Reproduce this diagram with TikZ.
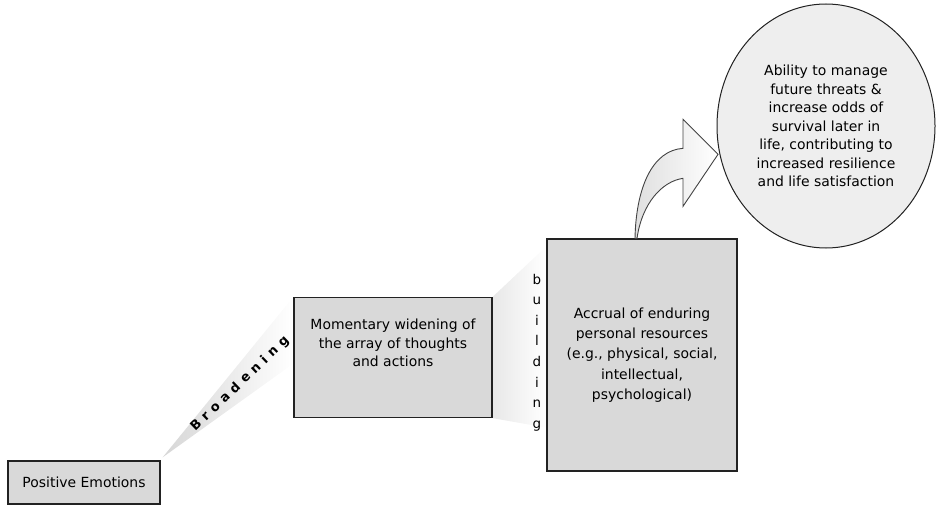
\documentclass[tikz,border=0pt]{standalone}
\usepackage{fontspec}
\setmainfont{DejaVu Sans}
\newfontfamily\spacedfont[LetterSpace=40]{DejaVu Sans}
\usetikzlibrary{shapes.geometric,calc,backgrounds}

\definecolor{boxgray}{HTML}{D9D9D9}
\definecolor{ballgray}{HTML}{EEEEEE}
\definecolor{edge}{HTML}{222222}

\begin{document}
\begin{tikzpicture}[x=1bp,y=-1bp,
  stagebox/.style={draw=edge, line width=1.3bp, fill=boxgray, inner sep=0pt, align=center},
  body/.style={font=\fontsize{14}{18.5}\selectfont, text=black},
  wedge/.style={right color=white},
]
\useasboundingbox (0,0) rectangle (936,506);

% the three stages
\node[stagebox, body, minimum width=152bp, minimum height=43bp] (pos) at (84,482.5) {Positive Emotions};
\node[stagebox, minimum width=198bp, minimum height=120bp] (mom) at (393,357.5) {};
\node[body, align=center, inner sep=0pt] (momtext) at (393,343)
  {Momentary widening of\\the array of thoughts\\and actions};
\node[stagebox, body, font=\fontsize{14}{20.5}\selectfont, minimum width=190bp, minimum height=232bp] (acc) at (642,355)
  {Accrual of enduring\\personal resources\\(e.g., physical, social,\\intellectual,\\psychological)};

% outcome
\node[ellipse, draw=edge, line width=1bp, fill=ballgray, minimum width=218bp, minimum height=244bp,
      inner sep=0pt, align=center, body] (goal) at (826,126)
  {Ability to manage\\future threats \&\\increase odds of\\survival later in\\life, contributing to\\increased resilience\\and life satisfaction};

% soft wedges joining the stages
\begin{scope}[on background layer]
  \shade[wedge, left color=gray!32] ($(pos.north east)+(2,-3)$) -- (mom.north west)
        -- ($(mom.north west)!0.55!(mom.south west)$) -- cycle;
  \shade[wedge, left color=gray!18] (mom.north east) -- ($(acc.north west)+(0,8)$)
        -- ($(acc.south west)+(0,-44)$) -- (mom.south east) -- cycle;
\end{scope}

% wedge labels
\node[font=\spacedfont\bfseries\fontsize{13}{15}\selectfont, rotate=44, text=black] (broad) at (240,384) {Broadening};
\node[font=\fontsize{13.5}{20.7}\selectfont, align=center, inner sep=0pt, text=black] (bld) at (537,352.5)
  {b\\u\\i\\l\\d\\i\\n\\g};

% curved arrow rising from the resources box
\begin{scope}[shift={(acc.north)}]
  \shadedraw[draw=edge!85, line width=0.9bp, left color=gray!25, right color=white]
    (-7,0) .. controls (-6,-50) and (10,-88) .. (41,-90)
    -- (41,-119) -- (76,-84) -- (41,-32) -- (41,-60)
    .. controls (20,-57) and (0,-35) .. (-5,0) -- cycle;
\end{scope}
\end{tikzpicture}
\end{document}
